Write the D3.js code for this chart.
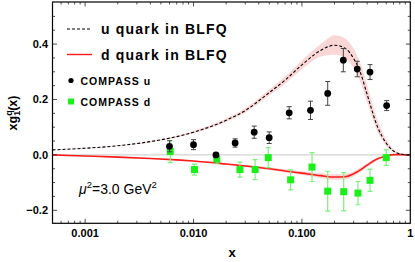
<!DOCTYPE html>
<html>
<head>
<meta charset="utf-8">
<script src="https://d3js.org/d3.v7.min.js"></script>
<style>
    body { margin: 0; background: #fff; }
    text { font-family: "Liberation Sans", Arial, sans-serif; }
    .tick-label { font-size: 11px; font-weight: bold; }
</style>
</head>
<body>
<svg id="chart"></svg>
<script>
    // BLFQ model curves (x, x*g1)
    var curveX = [0.0005, 0.001, 0.002, 0.004, 0.007, 0.01, 0.02, 0.03, 0.05, 0.07, 0.1, 0.15, 0.2, 0.25, 0.3, 0.35, 0.4, 0.5, 0.6, 0.7, 0.8, 0.9, 1];
    var uCurve = [0.018, 0.024, 0.033, 0.048, 0.066, 0.082, 0.125, 0.160, 0.225, 0.270, 0.325, 0.378, 0.396, 0.385, 0.348, 0.292, 0.218, 0.100, 0.042, 0.014, 0.004, 0.001, 0];
    var uLow = [0.017, 0.023, 0.032, 0.046, 0.063, 0.078, 0.119, 0.152, 0.214, 0.257, 0.309, 0.355, 0.362, 0.350, 0.314, 0.260, 0.190, 0.082, 0.033, 0.010, 0.002, 0.000, 0];
    var uHigh = [0.019, 0.025, 0.034, 0.050, 0.069, 0.086, 0.131, 0.168, 0.236, 0.283, 0.341, 0.400, 0.432, 0.420, 0.383, 0.326, 0.250, 0.124, 0.056, 0.021, 0.007, 0.002, 0];
    var dCurve = [0.000, -0.004, -0.008, -0.013, -0.018, -0.022, -0.033, -0.040, -0.050, -0.058, -0.066, -0.075, -0.080, -0.079, -0.068, -0.053, -0.037, -0.014, -0.004, 0.001, 0.001, 0.000, 0];
    var dLow = [-0.001, -0.005, -0.009, -0.014, -0.019, -0.024, -0.036, -0.044, -0.055, -0.064, -0.073, -0.084, -0.090, -0.089, -0.077, -0.061, -0.044, -0.019, -0.007, -0.001, 0.000, 0.000, 0];
    var dHigh = [0.001, -0.003, -0.007, -0.012, -0.017, -0.020, -0.030, -0.036, -0.045, -0.052, -0.059, -0.066, -0.070, -0.069, -0.059, -0.045, -0.030, -0.009, -0.001, 0.003, 0.002, 0.001, 0];

    // COMPASS data
    var compassUX = [0.0060, 0.0100, 0.0161, 0.0242, 0.0363, 0.0499, 0.0763, 0.120, 0.173, 0.241, 0.324, 0.425, 0.605];
    var compassU = [0.031, 0.037, 0.000, 0.043, 0.082, 0.062, 0.152, 0.161, 0.222, 0.342, 0.310, 0.299, 0.178];
    var compassUErr = [0.020, 0.018, 0.005, 0.015, 0.022, 0.021, 0.022, 0.033, 0.043, 0.042, 0.028, 0.027, 0.018];
    var compassDX = [0.0061, 0.0102, 0.0164, 0.0268, 0.0370, 0.0489, 0.0787, 0.124, 0.173, 0.243, 0.329, 0.425, 0.600];
    var compassD = [0.012, -0.053, -0.015, -0.053, -0.053, -0.010, -0.090, -0.044, -0.131, -0.133, -0.138, -0.092, -0.010];
    var compassDErr = [0.040, 0.020, 0.017, 0.027, 0.036, 0.036, 0.036, 0.052, 0.072, 0.069, 0.042, 0.040, 0.028];

    var xMajor = [0.001, 0.01, 0.1, 1];
    var xMajorLabels = ["0.001", "0.010", "0.100", "1"];
    var yMajor = [-0.2, 0, 0.2, 0.4];
    var yMajorLabels = ["\u22120.2", "0.0", "0.2", "0.4"];

    var width = 415, height = 262;
    var mLeft = 52.5, mRight = 410.3, mTop = 2, mBottom = 223.3;

    var svg = d3.select("#chart")
        .attr("width", width)
        .attr("height", height);

    var x = d3.scaleLog().domain([0.0005, 1]).range([mLeft, mRight]);
    var y = d3.scaleLinear().domain([-0.247, 0.552]).range([mBottom, mTop]);

    svg.append("defs").append("clipPath").attr("id", "clip")
        .append("rect")
        .attr("x", mLeft).attr("y", mTop)
        .attr("width", mRight - mLeft).attr("height", mBottom - mTop);
    var plot = svg.append("g").attr("clip-path", "url(#clip)");

    function rows(lo, hi) {
        return curveX.map(function (v, i) { return { x: v, lo: lo[i], hi: hi[i] }; });
    }
    function pts(vals) {
        return curveX.map(function (v, i) { return { x: v, y: vals[i] }; });
    }

    var area = d3.area()
        .x(function (d) { return x(d.x); })
        .y0(function (d) { return y(d.lo); })
        .y1(function (d) { return y(d.hi); })
        .curve(d3.curveMonotoneX);

    var line = d3.line()
        .x(function (d) { return x(d.x); })
        .y(function (d) { return y(d.y); })
        .curve(d3.curveMonotoneX);

    // bands
    plot.append("path").datum(rows(uLow, uHigh))
        .attr("d", area).attr("fill", "#fbd6d6");
    plot.append("path").datum(rows(dLow, dHigh))
        .attr("d", area).attr("fill", "#fbd6d6");

    // zero line
    plot.append("line")
        .attr("x1", mLeft).attr("x2", mRight)
        .attr("y1", y(0)).attr("y2", y(0))
        .attr("stroke", "#c8c8c8").attr("stroke-width", 1);

    // curves
    plot.append("path").datum(pts(dCurve))
        .attr("d", line).attr("fill", "none")
        .attr("stroke", "#ff1a1a").attr("stroke-width", 1.6);
    plot.append("path").datum(pts(uCurve))
        .attr("d", line).attr("fill", "none")
        .attr("stroke", "#000").attr("stroke-width", 1.1)
        .attr("stroke-dasharray", "3,2");

    // COMPASS d (green squares)
    var dData = compassDX.map(function (v, i) { return { x: v, y: compassD[i], e: compassDErr[i] }; });
    var gD = plot.append("g").selectAll("g").data(dData).enter().append("g");
    gD.append("line")
        .attr("x1", function (d) { return x(d.x); }).attr("x2", function (d) { return x(d.x); })
        .attr("y1", function (d) { return y(d.y - d.e); }).attr("y2", function (d) { return y(d.y + d.e); })
        .attr("stroke", "#7ef07e").attr("stroke-width", 1.2);
    [-1, 1].forEach(function (s) {
        gD.append("line")
            .attr("x1", function (d) { return x(d.x) - 2.5; }).attr("x2", function (d) { return x(d.x) + 2.5; })
            .attr("y1", function (d) { return y(d.y + s * d.e); }).attr("y2", function (d) { return y(d.y + s * d.e); })
            .attr("stroke", "#7ef07e").attr("stroke-width", 1.2);
    });
    gD.append("rect")
        .attr("x", function (d) { return x(d.x) - 3.5; })
        .attr("y", function (d) { return y(d.y) - 3.5; })
        .attr("width", 7).attr("height", 7)
        .attr("fill", "#1aef1a");

    // COMPASS u (black dots)
    var uData = compassUX.map(function (v, i) { return { x: v, y: compassU[i], e: compassUErr[i] }; });
    var gU = plot.append("g").selectAll("g").data(uData).enter().append("g");
    gU.append("line")
        .attr("x1", function (d) { return x(d.x); }).attr("x2", function (d) { return x(d.x); })
        .attr("y1", function (d) { return y(d.y - d.e); }).attr("y2", function (d) { return y(d.y + d.e); })
        .attr("stroke", "#444").attr("stroke-width", 1);
    [-1, 1].forEach(function (s) {
        gU.append("line")
            .attr("x1", function (d) { return x(d.x) - 2.5; }).attr("x2", function (d) { return x(d.x) + 2.5; })
            .attr("y1", function (d) { return y(d.y + s * d.e); }).attr("y2", function (d) { return y(d.y + s * d.e); })
            .attr("stroke", "#444").attr("stroke-width", 1);
    });
    gU.append("circle")
        .attr("cx", function (d) { return x(d.x); })
        .attr("cy", function (d) { return y(d.y); })
        .attr("r", 3.4).attr("fill", "#000");

    // frame
    svg.append("rect")
        .attr("x", mLeft).attr("y", mTop)
        .attr("width", mRight - mLeft).attr("height", mBottom - mTop)
        .attr("fill", "none").attr("stroke", "#000").attr("stroke-width", 1.2);

    // ticks on all four sides, pointing inwards
    var xMinor = [];
    [0.0001, 0.001, 0.01, 0.1].forEach(function (dec) {
        for (var k = 2; k <= 9; k++) {
            var v = dec * k;
            if (v >= 0.0005 && v < 1) xMinor.push(v);
        }
    });
    var yMinor = [-0.15, -0.1, -0.05, 0.05, 0.1, 0.15, 0.25, 0.3, 0.35, 0.45, 0.5];

    var ticks = svg.append("g").attr("stroke", "#222").attr("stroke-width", 0.8);
    function xTicks(vals, len) {
        vals.forEach(function (v) {
            ticks.append("line").attr("x1", x(v)).attr("x2", x(v)).attr("y1", mBottom).attr("y2", mBottom - len);
            ticks.append("line").attr("x1", x(v)).attr("x2", x(v)).attr("y1", mTop).attr("y2", mTop + len);
        });
    }
    function yTicks(vals, len) {
        vals.forEach(function (v) {
            ticks.append("line").attr("x1", mLeft).attr("x2", mLeft + len).attr("y1", y(v)).attr("y2", y(v));
            ticks.append("line").attr("x1", mRight).attr("x2", mRight - len).attr("y1", y(v)).attr("y2", y(v));
        });
    }
    xTicks(xMajor.slice(0, 3), 4.5);
    xTicks(xMinor, 2.5);
    yTicks(yMajor, 4.5);
    yTicks(yMinor, 2.5);

    // tick labels
    svg.append("g").selectAll("text").data(xMajor).enter().append("text")
        .attr("class", "tick-label")
        .attr("x", function (d) { return x(d); })
        .attr("y", 237)
        .attr("text-anchor", "middle")
        .text(function (d, i) { return xMajorLabels[i]; });

    svg.append("g").selectAll("text").data(yMajor).enter().append("text")
        .attr("class", "tick-label")
        .attr("x", 48)
        .attr("y", function (d) { return y(d) + 4; })
        .attr("text-anchor", "end")
        .text(function (d, i) { return yMajorLabels[i]; });

    // axis titles
    svg.append("text")
        .attr("x", 232).attr("y", 257)
        .attr("text-anchor", "middle")
        .attr("font-size", 13).attr("font-weight", "bold")
        .text("x");

    var yl = svg.append("text")
        .attr("transform", "translate(17,113) rotate(-90)")
        .attr("text-anchor", "middle")
        .attr("font-size", 12.5).attr("font-weight", "bold");
    yl.append("tspan").text("xg");
    yl.append("tspan").attr("font-size", 9).attr("dy", -5).text("q");
    yl.append("tspan").attr("font-size", 9).attr("dx", -5.5).attr("dy", 8).text("1");
    yl.append("tspan").attr("dy", -3).text("(x)");

    // legend
    var legend = svg.append("g");
    legend.append("line")
        .attr("x1", 67).attr("x2", 92).attr("y1", 29).attr("y2", 29)
        .attr("stroke", "#000").attr("stroke-width", 1).attr("stroke-dasharray", "3,2");
    legend.append("text")
        .attr("x", 101).attr("y", 33.5)
        .attr("font-size", 14).attr("font-weight", "bold").attr("letter-spacing", 1.2)
        .text("u quark in BLFQ");
    legend.append("line")
        .attr("x1", 67).attr("x2", 92).attr("y1", 54.5).attr("y2", 54.5)
        .attr("stroke", "#ff1a1a").attr("stroke-width", 1.4);
    legend.append("text")
        .attr("x", 101).attr("y", 59.5)
        .attr("font-size", 14).attr("font-weight", "bold").attr("letter-spacing", 1.2)
        .text("d quark in BLFQ");
    legend.append("circle")
        .attr("cx", 71).attr("cy", 80.5).attr("r", 2.6).attr("fill", "#000");
    legend.append("text")
        .attr("x", 80.5).attr("y", 84.5)
        .attr("font-size", 10.5).attr("font-weight", "bold").attr("letter-spacing", 1)
        .text("COMPASS u");
    legend.append("rect")
        .attr("x", 68).attr("y", 98.5).attr("width", 6).attr("height", 6).attr("fill", "#1aef1a");
    legend.append("text")
        .attr("x", 80.5).attr("y", 105.5)
        .attr("font-size", 10.5).attr("font-weight", "bold").attr("letter-spacing", 1)
        .text("COMPASS d");

    // scale annotation
    var ann = svg.append("text")
        .attr("x", 79).attr("y", 194)
        .attr("font-size", 14);
    ann.append("tspan").attr("font-style", "italic").text("\u03bc");
    ann.append("tspan").attr("font-size", 9.5).attr("dy", -6).text("2");
    ann.append("tspan").attr("dy", 6).text("=3.0 GeV");
    ann.append("tspan").attr("font-size", 9.5).attr("dy", -6).text("2");
</script>
</body>
</html>
